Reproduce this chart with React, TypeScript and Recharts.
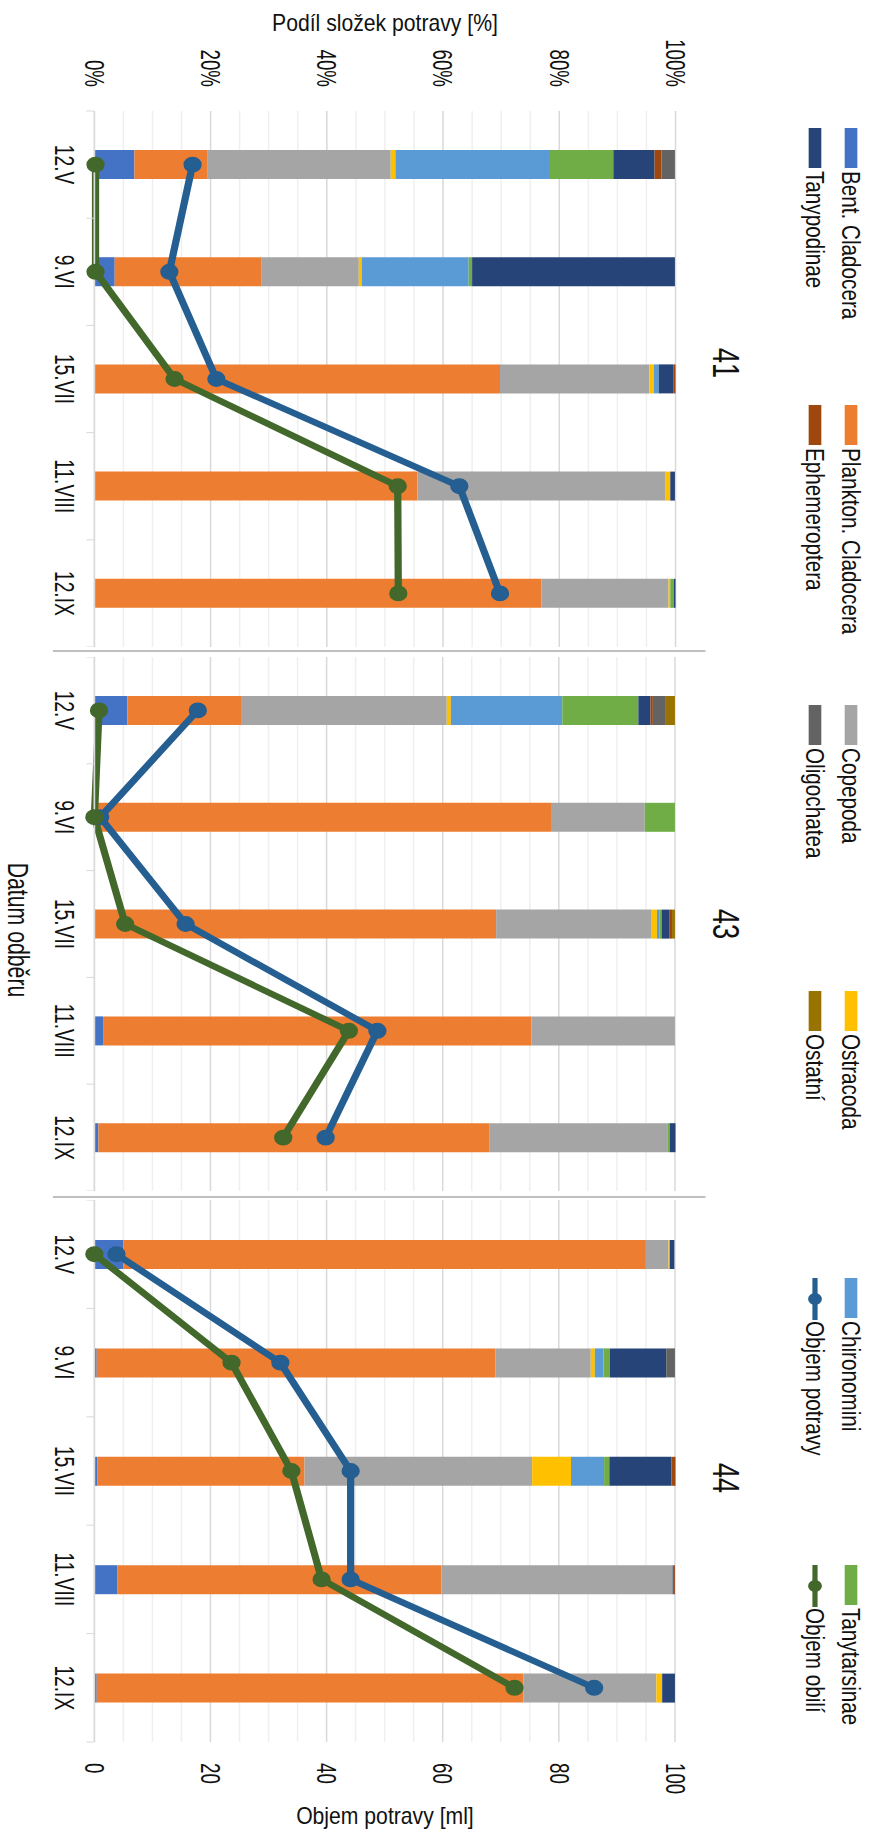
import React from "react";
import { Bar, CartesianGrid, ComposedChart, Label, Line, XAxis, YAxis } from "recharts";

// the figure is drawn in its natural (landscape) orientation and turned a quarter turn
const W = 1834;
const H = 756;
const STRETCH = 870 / H;
const FONT = "'Liberation Sans', Arial, sans-serif";
const INK = "#111";

const sites = ["41", "43", "44"];
const dates = ["12.V", "9.VI", "15.VII", "11.VIII", "12.IX"];

// podíl složek potravy [%], 5 odběrů pro lokality 41, 43, 44
const bentCladocera = [6.9, 3.5, 0, 0, 0, 5.7, 0, 0, 1.5, 0.7, 5.0, 0.4, 0.5, 4.0, 0.4];
const planktonCladocera = [12.5, 25.3, 69.8, 55.6, 76.9, 19.7, 78.8, 69.2, 73.8, 67.3, 90.0, 68.7, 35.7, 55.8, 73.5];
const copepoda = [31.6, 16.7, 25.7, 42.7, 21.9, 35.3, 16.0, 26.8, 24.7, 30.7, 3.9, 16.4, 39.2, 39.8, 22.9];
const ostracoda = [0.8, 0.5, 0.8, 0.8, 0.3, 0.7, 0, 0.9, 0, 0, 0.2, 0.7, 6.7, 0, 1.0];
const chironomini = [26.6, 18.4, 0.8, 0, 0, 19.2, 0, 0.4, 0, 0, 0, 1.5, 5.7, 0, 0];
const tanytarsinae = [10.9, 0.6, 0, 0, 0.6, 13.1, 5.2, 0.4, 0, 0.4, 0, 1.1, 0.9, 0, 0];
const tanypodinae = [7.1, 34.9, 2.5, 0.8, 0.3, 2.1, 0, 1.4, 0, 1.0, 0.8, 9.7, 10.7, 0.2, 2.2];
const ephemeroptera = [1.2, 0, 0.4, 0, 0, 0.4, 0, 0.4, 0, 0, 0, 0, 0.7, 0.2, 0];
const oligochatea = [2.3, 0, 0, 0, 0, 2.1, 0, 0, 0, 0, 0, 1.5, 0, 0, 0];
const ostatni = [0, 0, 0, 0, 0, 1.7, 0, 0.5, 0, 0, 0, 0, 0, 0, 0];

// objem [ml]
const objemPotravy = [16.9, 12.9, 21.0, 62.8, 69.8, 17.8, 1.0, 15.7, 48.7, 39.8, 3.8, 32.0, 44.1, 44.1, 86.0];
const objemObili = [0.2, 0.2, 13.8, 52.2, 52.3, 0.8, 0, 5.3, 43.8, 32.5, 0, 23.6, 33.9, 39.1, 72.3];

const pctTicks = [0, 20, 40, 60, 80, 100];
const minorTicks = [5, 10, 15, 25, 30, 35, 45, 50, 55, 65, 70, 75, 85, 90, 95];
const mlTicks = [0, 20, 40, 60, 80, 100];

const components = [
    { key: "bent", name: "Bent. Cladocera", color: "#4472C4", values: bentCladocera },
    { key: "plankton", name: "Plankton. Cladocera", color: "#ED7D31", values: planktonCladocera },
    { key: "copepoda", name: "Copepoda", color: "#A5A5A5", values: copepoda },
    { key: "ostracoda", name: "Ostracoda", color: "#FFC000", values: ostracoda },
    { key: "chironomini", name: "Chironomini", color: "#5B9BD5", values: chironomini },
    { key: "tanytarsinae", name: "Tanytarsinae", color: "#70AD47", values: tanytarsinae },
    { key: "tanypodinae", name: "Tanypodinae", color: "#264478", values: tanypodinae },
    { key: "ephemeroptera", name: "Ephemeroptera", color: "#9E480E", values: ephemeroptera },
    { key: "oligochatea", name: "Oligochatea", color: "#636363", values: oligochatea },
    { key: "ostatni", name: "Ostatní", color: "#997300", values: ostatni },
];

const volumes = [
    { key: "potrava", name: "Objem potravy", color: "#255E91", values: objemPotravy },
    { key: "obili", name: "Objem obilí", color: "#43682B", values: objemObili },
];

const panels = [
    { left: 0, width: 647, pctAxis: true, mlAxis: false, title: 363 },
    { left: 657, width: 534, pctAxis: false, mlAxis: false, title: 924 },
    { left: 1200, width: 634, pctAxis: false, mlAxis: true, title: 1478 },
];

const panelData = (i: number) =>
    dates.map((date, j) => {
        const row: Record<string, string | number> = { date };
        components.forEach((c) => (row[c.key] = c.values[i * 5 + j]));
        volumes.forEach((v) => (row[v.key] = v.values[i * 5 + j]));
        return row;
    });

// narrow lettering like the original (Arial Narrow look)
const NarrowText = (props: {
    x: number; y: number; k: number; size: number; anchor?: string; rotate?: number; dy?: string; children: React.ReactNode;
}) => {
    const { x, y, k, size, anchor = "start", rotate = 0, dy = "0.35em", children } = props;
    return (
        <text
            transform={`translate(${x} ${y}) rotate(${rotate}) scale(${k} 1)`}
            dy={dy}
            textAnchor={anchor}
            fontSize={size}
            fontFamily={FONT}
            fill={INK}
        >
            {children}
        </text>
    );
};

const DateTick = (props: any) => {
    const { x, y, payload, index } = props;
    const half = payload.offset ?? 0;
    const axisY = y - 17;
    return (
        <g>
            <line x1={x - half} x2={x - half} y1={axisY} y2={axisY + 7} stroke="#D9D9D9" />
            {index === dates.length - 1 && (
                <line x1={x + half} x2={x + half} y1={axisY} y2={axisY + 7} stroke="#D9D9D9" />
            )}
            <NarrowText x={x} y={y} k={0.8} size={24} anchor="middle" dy="0.71em">
                {payload.value}
            </NarrowText>
        </g>
    );
};

const ValueTick = (props: any) => {
    const { x, y, payload, textAnchor, suffix } = props;
    return (
        <NarrowText x={x} y={y} k={0.78} size={24} anchor={textAnchor}>
            {`${payload.value}${suffix}`}
        </NarrowText>
    );
};

const AxisTitle = (props: any) => {
    const { viewBox, text, side, gap } = props;
    const { x, y, width, height } = viewBox;
    const cx = side === "left" ? x + gap : x + width - gap;
    return (
        <NarrowText x={cx} y={y + height / 2} k={0.8} size={23} anchor="middle" rotate={-90}>
            {text}
        </NarrowText>
    );
};

const legendRows = [
    [...components.slice(0, 6).map((c) => ({ ...c, line: false }))],
    [...components.slice(6).map((c) => ({ ...c, line: false })), ...volumes.map((v) => ({ ...v, line: true }))],
];
const legendX = [128, 405, 705, 991, 1278, 1565];
const legendY = [16.5, 47.8];

const Panel = ({ index }: { index: number }) => {
    const p = panels[index];
    return (
        <ComposedChart
            width={p.width}
            height={H}
            data={panelData(index)}
            margin={{ top: 169, right: 0, bottom: 0, left: 0 }}
        >
            <CartesianGrid yAxisId="pct" vertical={false} horizontalValues={minorTicks} stroke="#EFEFEF" strokeWidth={1.3} />
            <CartesianGrid yAxisId="pct" vertical={false} horizontalValues={[20, 40, 60, 80, 100]} stroke="#D9D9D9" strokeWidth={1.3} />
            <XAxis
                dataKey="date"
                height={82}
                interval={0}
                tickLine={false}
                tickSize={0}
                tickMargin={17}
                axisLine={{ stroke: "#D9D9D9", strokeWidth: 1.5 }}
                tick={<DateTick />}
            />
            <YAxis
                yAxisId="pct"
                domain={[0, 100]}
                ticks={pctTicks}
                hide={!p.pctAxis}
                width={111}
                axisLine={false}
                tickLine={false}
                tickSize={6}
                tickMargin={18}
                tick={<ValueTick suffix="%" />}
            >
                <Label content={<AxisTitle text="Podíl složek potravy [%]" side="left" gap={23} />} />
            </YAxis>
            <YAxis
                yAxisId="ml"
                orientation="right"
                domain={[0, 100]}
                ticks={mlTicks}
                hide={!p.mlAxis}
                width={92}
                axisLine={false}
                tickLine={false}
                tickSize={6}
                tickMargin={15}
                tick={<ValueTick suffix="" />}
            >
                <Label content={<AxisTitle text="Objem potravy [ml]" side="right" gap={18} />} />
            </YAxis>
            {components.map((c) => (
                <Bar
                    key={c.key}
                    yAxisId="pct"
                    dataKey={c.key}
                    name={c.name}
                    stackId="podil"
                    fill={c.color}
                    barSize={29}
                    isAnimationActive={false}
                />
            ))}
            {volumes.map((v) => (
                <Line
                    key={v.key}
                    yAxisId="ml"
                    dataKey={v.key}
                    name={v.name}
                    type="linear"
                    stroke={v.color}
                    strokeWidth={6.3}
                    dot={{ r: 7.2, fill: v.color, stroke: v.color, strokeWidth: 1.5 }}
                    activeDot={false}
                    isAnimationActive={false}
                />
            ))}
        </ComposedChart>
    );
};

const App: React.FunctionComponent = () => {
    return (
        <>
            <style>{"body{margin:0;overflow:hidden;background:#fff}"}</style>
            <div
                style={{
                    position: "absolute",
                    left: 0,
                    top: 0,
                    width: W,
                    height: H,
                    transformOrigin: "0 0",
                    transform: `translate(870px, 0px) rotate(90deg) scale(1, ${STRETCH})`,
                    background: "#fff",
                }}
            >
                {panels.map((p, i) => (
                    <div key={i} style={{ position: "absolute", left: p.left, top: 0 }}>
                        <Panel index={i} />
                    </div>
                ))}
                <svg width={W} height={H} style={{ position: "absolute", left: 0, top: 0, pointerEvents: "none" }}>
                    {[651, 1197].map((x) => (
                        <line key={x} x1={x} x2={x} y1={143} y2={710} stroke="#BFBFBF" strokeWidth={2} />
                    ))}
                    {panels.map((p, i) => (
                        <NarrowText key={i} x={p.title} y={125} k={0.85} size={32} anchor="middle">
                            {sites[i]}
                        </NarrowText>
                    ))}
                    <NarrowText x={930} y={740} k={0.85} size={25} anchor="middle">
                        Datum odběru
                    </NarrowText>
                    {legendRows.map((row, r) =>
                        row.map((item, k) => {
                            const x = legendX[k];
                            const cy = legendY[r];
                            return (
                                <g key={item.key}>
                                    {item.line ? (
                                        <>
                                            <line x1={x} x2={x + 42} y1={cy} y2={cy} stroke={item.color} strokeWidth={4.5} />
                                            <circle cx={x + 21} cy={cy} r={6} fill={item.color} />
                                        </>
                                    ) : (
                                        <rect x={x} y={cy - 5.5} width={40} height={11} fill={item.color} />
                                    )}
                                    <NarrowText x={x + 43} y={cy} k={0.9} size={23}>
                                        {item.name}
                                    </NarrowText>
                                </g>
                            );
                        })
                    )}
                </svg>
            </div>
        </>
    );
};

export default App;
